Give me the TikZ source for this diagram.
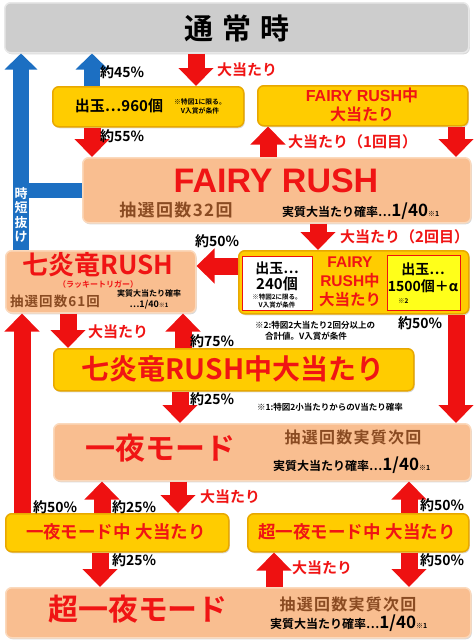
\documentclass[tikz,border=0pt]{standalone}
\usepackage{fontspec}
\setmainfont{Noto Sans CJK JP Bold}
\newfontfamily\lat{Liberation Sans Bold}
\newfontfamily\spaced{Noto Sans CJK JP Bold}[LetterSpace=8]
\usetikzlibrary{arrows.meta,shadows}
\definecolor{grayfill}{HTML}{CDCDCD}
\definecolor{grayedge}{HTML}{E8E8E8}
\definecolor{peach}{HTML}{F9BE90}
\definecolor{peachedge}{HTML}{FBD9BC}
\definecolor{gold}{HTML}{FFCC00}
\definecolor{goldedge}{HTML}{E8A800}
\definecolor{lemon}{HTML}{FFFF1A}
\definecolor{ared}{HTML}{EE1111}
\definecolor{tred}{HTML}{F01414}
\definecolor{abl}{HTML}{1C6FC2}
\definecolor{brownt}{HTML}{8A4B22}
\newcommand{\fsz}[1]{\fontsize{#1}{#1}\selectfont}
\tikzset{
  box/.style={rounded corners=6pt, line width=1.5pt, anchor=north west, inner sep=0pt,
    drop shadow={shadow xshift=1pt,shadow yshift=-1.5pt,opacity=0.3}},
  graybox/.style={box, fill=grayfill, draw=grayedge},
  peachbox/.style={box, fill=peach, draw=peachedge},
  goldbox/.style={box, fill=gold, draw=goldedge},
  redarrow/.style={draw=ared, line width=17pt, -{Triangle[width=34pt,length=18pt]}},
  bluearrow/.style={draw=abl, line width=16pt, -{Triangle[width=32pt,length=16pt]}},
  txt/.style={inner sep=0pt, align=center},
  rtxt/.style={txt, text=tred},
  btxt/.style={txt, text=brownt},
  lbl/.style={inner sep=0pt, anchor=west, font=\fsz{14}},
  rlbl/.style={lbl, text=tred, font=\fsz{15}},
}
\begin{document}
\begin{tikzpicture}[x=1pt,y=-1pt]
\useasboundingbox (0,0) rectangle (474,640);
% boxes
\node[graybox, minimum width=464pt, minimum height=50pt] (tsj) at (4,2) {};
\node[txt, font=\fsz{29}] (tsjt) at (237,28) {通\hspace{9pt}常\hspace{9pt}時};

\node[goldbox, minimum width=191pt, minimum height=40pt] (d960) at (52,86) {};
\node[txt, font=\fsz{15}] (d960t) at (119,106) {出玉…960個};
\node[txt, font=\fontsize{6.8}{9}\selectfont] (d960n) at (200,106) {※特図1に限る。\\V入賞が条件};

\node[goldbox, minimum width=210pt, minimum height=40pt] (frc) at (257,85) {};
\node[rtxt, font=\fontsize{16}{19}\selectfont] (frct) at (362,105) {{\lat FAIRY RUSH}中\\大当たり};

\node[peachbox, minimum width=388pt, minimum height=65pt] (fr) at (82,157) {};
\node[rtxt, font=\lat\fsz{34}] (frt) at (276,181) {FAIRY RUSH};
\node[btxt, font=\spaced\fsz{17}] (frn) at (176,210) {抽選回数32回};
\node[inner sep=0pt, anchor=base west] (frp) at (282,216) {{\fsz{12}実質大当たり確率…}{\fsz{17}1/40}{\fsz{7}※1}};

\node[goldbox, minimum width=230pt, minimum height=63pt] (fr2) at (238,250) {};
\node[draw=ared, line width=1pt, fill=white, anchor=north west, minimum width=70pt, minimum height=54pt, inner sep=0pt] (wb) at (242,256) {};
\node[txt, font=\fsz{14}] (wb1) at (277,268) {出玉…};
\node[txt, font=\fsz{15}] (wb2) at (277,284) {240個};
\node[txt, font=\fontsize{6.5}{8}\selectfont] (wb3) at (277,301) {※特図2に限る。\\V入賞が条件};
\node[rtxt, font=\fontsize{15.5}{19}\selectfont] (fr2t) at (350,282) {{\lat FAIRY}\\{\lat RUSH}中\\大当たり};
\node[draw=ared, line width=1pt, fill=lemon, anchor=north west, minimum width=73pt, minimum height=55pt, inner sep=0pt] (yb) at (387,255) {};
\node[txt, font=\fsz{14}] (yb1) at (423,269) {出玉…};
\node[txt, font=\fsz{14}] (yb2) at (423,286) {1500個＋α};
\node[inner sep=0pt, anchor=west, font=\fsz{6.5}] (yb3) at (398,301) {※2};

\node[peachbox, minimum width=190pt, minimum height=62pt] (nana) at (5,250) {};
\node[rtxt, font=\fsz{26}] (nanat) at (98,265) {七炎竜RUSH};
\node[rtxt, font=\fsz{8}] (nanas) at (98,284) {（ラッキートリガー）};
\node[btxt, font=\spaced\fsz{13.5}] (nanan) at (55,301) {抽選回数61回};
\node[txt, font=\fontsize{8}{11}\selectfont] (nanap) at (149,299) {実質大当たり確率\\{\fsz{9}…1/40}{\fsz{6}※1}};

\node[goldbox, minimum width=360pt, minimum height=42pt] (nc) at (53,348) {};
\node[rtxt, font=\fsz{28}] (nct) at (233,369) {七炎竜RUSH中大当たり};

\node[peachbox, minimum width=417pt, minimum height=57pt] (ich) at (53,423) {};
\node[rtxt, font=\fsz{30}] (icht) at (160,448) {一夜モード};
\node[btxt, font=\spaced\fsz{16}] (ichn) at (353,437) {抽選回数実質次回};
\node[inner sep=0pt, anchor=base west] (ichp) at (273,470) {{\fsz{12}実質大当たり確率…}{\fsz{17}1/40}{\fsz{7}※1}};

\node[goldbox, minimum width=223pt, minimum height=38pt] (ichc) at (5,513) {};
\node[rtxt, font=\fsz{17.5}] (ichct) at (116,532) {一夜モード中\hspace{5pt}大当たり};
\node[goldbox, minimum width=221pt, minimum height=38pt] (sichc) at (247,513) {};
\node[rtxt, font=\fsz{17.5}] (sichct) at (357,532) {超一夜モード中\hspace{5pt}大当たり};

\node[peachbox, minimum width=465pt, minimum height=50pt] (sich) at (5,587) {};
\node[rtxt, font=\fsz{30}] (sicht) at (138,609) {超一夜モード};
\node[btxt, font=\spaced\fsz{16}] (sichn) at (348,604) {抽選回数実質次回};
\node[inner sep=0pt, anchor=base west] (sichp) at (270,628) {{\fsz{12}実質大当たり確率…}{\fsz{17}1/40}{\fsz{7}※1}};

% blue connectors
\coordinate (bj) at (21,190);
\draw[bluearrow] (nana.north -| 21,0) -- (tsj.south -| 21,0);
\draw[draw=abl, line width=15pt] (fr.west |- 0,190) -- (bj);
\node[txt, text=white, font=\fontsize{13}{14.5}\selectfont] (jt) at (21,215) {時\\短\\抜\\け};
\draw[bluearrow] (d960.north -| 92,0) -- (tsj.south -| 92,0);

% red connectors
\draw[redarrow] (tsj.south -| 196,0) -- (d960.north -| 196,0);
\draw[redarrow] (d960.south -| 92,0) -- (fr.north -| 92,0);
\draw[redarrow] (fr.north -| 268,0) -- (frc.south -| 268,0);
\draw[redarrow] (frc.south -| 456,0) -- (fr.north -| 456,0);
\draw[redarrow] (fr.south -| 318,0) -- (fr2.north -| 318,0);
\draw[redarrow] (fr2.west |- 0,266) -- (nana.east |- 0,266);
\draw[redarrow] (fr2.south -| 456,0) -- (ich.north -| 456,0);
\draw[redarrow] (nana.south -| 68,0) -- (nc.north -| 68,0);
\draw[redarrow] (nc.north -| 183,0) -- (nana.south -| 183,0);
\draw[redarrow] (nc.south -| 180,0) -- (ich.north -| 180,0);
\draw[redarrow] (ichc.north -| 22,0) -- (nana.south -| 22,0);
\draw[redarrow] (ichc.north -| 102,0) -- (ich.south -| 102,0);
\draw[redarrow] (ich.south -| 178,0) -- (ichc.north -| 178,0);
\draw[redarrow] (ichc.south -| 100,0) -- (sich.north -| 100,0);
\draw[redarrow] (sich.north -| 274,0) -- (sichc.south -| 274,0);
\draw[redarrow] (sichc.north -| 409,0) -- (ich.south -| 409,0);
\draw[redarrow] (sichc.south -| 409,0) -- (sich.north -| 409,0);

% labels
\node[lbl] (l45) at (100,72) {約45\%};
\node[rlbl] (lh0) at (217,70) {大当たり};
\node[lbl] (l55) at (100,136) {約55\%};
\node[rlbl] (lh1) at (288,142) {大当たり（1回目）};
\node[rlbl] (lh2) at (340,237) {大当たり（2回目）};
\node[lbl] (l50a) at (195,241) {約50\%};
\node[lbl] (l50b) at (398,323) {約50\%};
\node[rlbl] (lh3) at (88,332) {大当たり};
\node[lbl] (l75) at (190,341) {約75\%};
\node[lbl] (l25a) at (190,399) {約25\%};
\node[inner sep=0pt, anchor=west, font=\fsz{8.5}] (n1) at (257,407) {※1:特図2小当たりからのV当たり確率};
\node[inner sep=0pt, anchor=north west, align=left, font=\fontsize{8.5}{11}\selectfont] (n2) at (255,321) {※2:特図2大当たり2回分以上の\\\hspace{10pt}合計値。V入賞が条件};
\node[lbl] (l50c) at (33,507) {約50\%};
\node[lbl] (l25b) at (112,507) {約25\%};
\node[rlbl] (lh4) at (200,497) {大当たり};
\node[lbl] (l25c) at (112,560) {約25\%};
\node[rlbl] (lh5) at (292,568) {大当たり};
\node[lbl] (l50d) at (420,505) {約50\%};
\node[lbl] (l50e) at (420,560) {約50\%};
\end{tikzpicture}
\end{document}
